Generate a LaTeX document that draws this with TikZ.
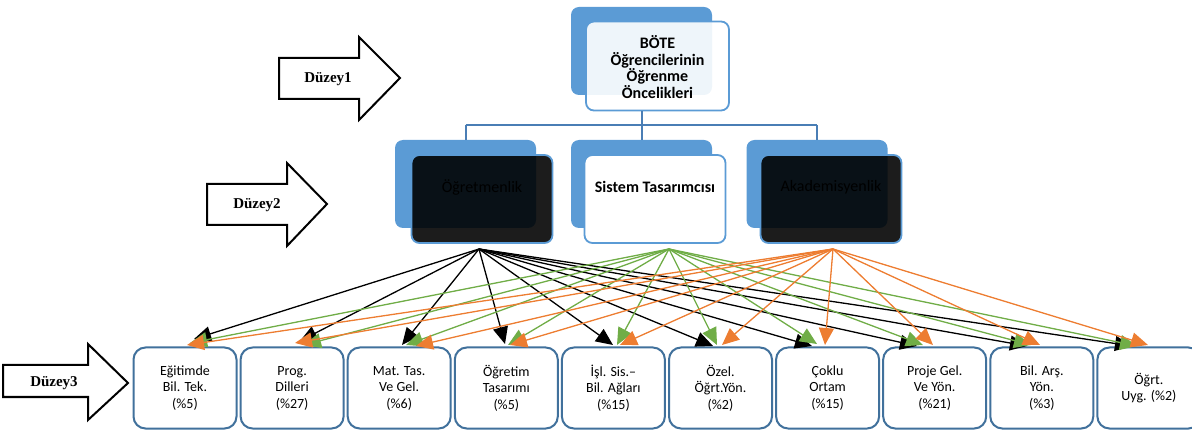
\documentclass[tikz,border=0pt]{standalone}
\usepackage{fontspec}
\setmainfont{Carlito}
\newfontfamily\serifbold{Liberation Serif}
\usetikzlibrary{arrows.meta}

\definecolor{backblue}{HTML}{5B9BD5}
\definecolor{boxedge}{HTML}{41719C}
\definecolor{linkblue}{HTML}{4A7EB5}
\definecolor{arrgreen}{HTML}{70AD47}
\definecolor{arrorange}{HTML}{ED7D31}

\tikzset{
  backbox/.style={rectangle, rounded corners=8pt, fill=backblue, draw=none,
    minimum width=141pt, minimum height=88pt, inner sep=0pt},
  frontwhite/.style={rectangle, rounded corners=8pt, fill=white,
    draw=backblue, line width=1.8pt, minimum width=141pt, minimum height=88pt, inner sep=0pt},
  frontdark/.style={rectangle, rounded corners=8pt, fill=black, fill opacity=0.89,
    draw=backblue, line width=1.8pt, minimum width=141pt, minimum height=88pt, inner sep=0pt},
  headtext/.style={font=\fontsize{16}{16.7}\selectfont\bfseries, align=center, text=black},
  midtext/.style={font=\fontsize{16}{17}\selectfont, text=black},
  leafbox/.style={rectangle, rounded corners=12pt, draw=boxedge, line width=2pt, fill=white,
    minimum width=103pt, minimum height=81pt, inner sep=0pt, align=center,
    font=\fontsize{14}{16.5}\selectfont},
  levelarrow/.style={draw=black, line width=2pt, fill=white, line join=miter},
  leveltext/.style={font=\serifbold\fontsize{15}{17}\selectfont\bfseries},
  link/.style={draw=linkblue, line width=2pt},
  feed/.style={line width=1.3pt, -{Triangle[length=17pt,width=15pt]}},
}

\begin{document}
\begin{tikzpicture}[x=1pt, y=-1pt]
\useasboundingbox (0,0) rectangle (1192,430);
\clip (0,0) rectangle (1192,430);

% level arrows
\draw[levelarrow] (279,58) -- (359,58) -- (359,37) -- (400,78) -- (359,120) -- (359,99) -- (279,99) -- cycle;
\node[leveltext] (d1) at (328,79) {Düzey1};
\draw[levelarrow] (207,184) -- (287,184) -- (287,163) -- (327,204) -- (287,246) -- (287,225) -- (207,225) -- cycle;
\node[leveltext] (d2) at (257,205) {Düzey2};
\draw[levelarrow] (3,365) -- (88,365) -- (88,344) -- (128,383) -- (88,420) -- (88,397) -- (3,397) -- cycle;
\node[leveltext] (d3) at (54,383) {Düzey3};

% top box
\node[backbox] (topback) at (641.5,51) {};
\node[frontwhite, fill opacity=0.9, minimum width=143pt, minimum height=89pt] (topfront) at (657.5,66) {};
\node[headtext] (toptext) at (657.5,67) {BÖTE\\Öğrencilerinin\\Öğrenme\\Öncelikleri};

% second level
\node[backbox] (b1) at (465.5,184) {};
\node[backbox] (b2) at (641.5,184) {};
\node[backbox] (b3) at (817,184) {};

% tree links
\coordinate (j0) at (641.5,125);
\coordinate (j1) at (465.5,125);
\coordinate (j3) at (817,125);
\draw[link] (topback.south |- topfront.south) -- (j0);
\draw[link] (j1) -- (j3);
\draw[link] (j1) -- (b1.north);
\draw[link] (j0) -- (b2.north);
\draw[link] (j3) -- (b3.north);

\node[frontdark] (f1) at (482,199) {};
\node[frontwhite] (f2) at (655,199) {};
\node[frontdark] (f3) at (831,199) {};
\node[midtext] (t1) at ([yshift=12pt]f1.center) {Öğretmenlik};
\node[midtext, font=\fontsize{16}{17}\selectfont\bfseries] (t2) at ([yshift=12pt]f2.center) {Sistem Tasarımcısı};
\node[midtext] (t3) at ([yshift=12pt]f3.center) {Akademisyenlik};

% third level
\foreach \i/\txt in {1/{Eğitimde\\Bil. Tek.\\(\%5)},
                     2/{Prog.\\Dilleri\\(\%27)},
                     3/{Mat. Tas.\\Ve Gel.\\(\%6)},
                     4/{Öğretim\\Tasarımı\\(\%5)},
                     5/{İşl. Sis.–\\Bil. Ağları\\(\%15)},
                     6/{Özel.\\Öğrt.Yön.\\(\%2)},
                     7/{Çoklu\\Ortam\\(\%15)},
                     8/{Proje Gel.\\Ve Yön.\\(\%21)},
                     9/{Bil. Arş.\\Yön.\\(\%3)},
                     10/{Öğrt.\\Uyg. (\%2)}}
  \node[leafbox] (l\i) at ({185+107.1*(\i-1)},388) {\txt};

% feeding arrows
\coordinate (oa) at (479,249);
\coordinate (ob) at (669,249);
\coordinate (oc) at (833,249);
\foreach \i/\x/\y in {1/194/339, 2/300/341, 3/402/345, 4/505/344, 5/613/345,
                      6/713/346, 7/812/346, 8/917/346, 9/1027/346, 10/1132/346}
  \coordinate (ka\i) at (\x,\y);
\foreach \i/\x/\y in {1/190/343, 2/304/345, 3/406/345, 4/508/345, 5/617/345,
                      6/717/345, 7/817/344, 8/923/345, 9/1031/345, 10/1137/346}
  \coordinate (kb\i) at (\x,\y);
\foreach \i/\x/\y in {1/187/345, 2/295/343, 3/416/346, 4/510/345, 5/620/345,
                      6/722/345, 7/825/345, 8/933/345, 9/1040/345, 10/1148/345}
  \coordinate (kc\i) at (\x,\y);

\foreach \i in {1,...,10} \draw[feed, draw=black, fill=black] (oa) -- (ka\i);
\foreach \i in {1,...,10} \draw[feed, draw=arrgreen, fill=arrgreen] (ob) -- (kb\i);
\foreach \i in {1,...,10} \draw[feed, draw=arrorange, fill=arrorange] (oc) -- (kc\i);
\end{tikzpicture}
\end{document}
